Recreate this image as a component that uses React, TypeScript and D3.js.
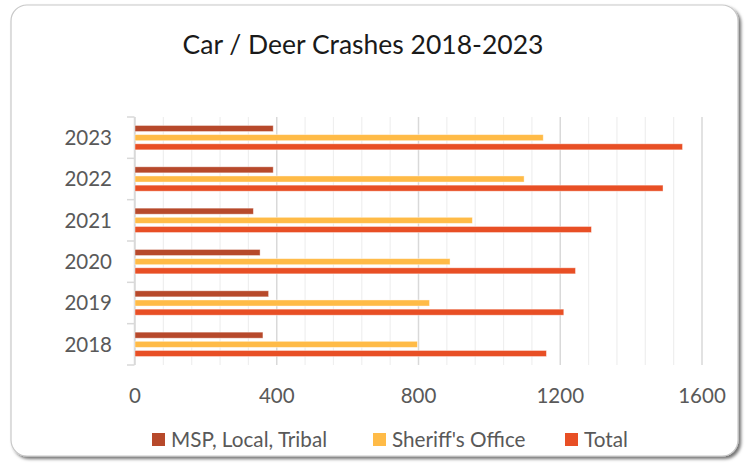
import React from "react";
import * as d3 from "d3";

const years = ["2023", "2022", "2021", "2020", "2019", "2018"];
const seriesNames = ["MSP, Local, Tribal", "Sheriff's Office", "Total"];
const mspValues = [390, 390, 334, 353, 377, 361];
const sheriffValues = [1152, 1098, 952, 889, 831, 797];
const totalValues = [1545, 1490, 1288, 1243, 1210, 1161];
const xTicks = [0, 400, 800, 1200, 1600];
const colors = ["#B7492B", "#FFBB47", "#E84F25"];

const W = 746;
const H = 463;
const FONT = "Lato, 'Open Sans', sans-serif";

export default function App() {
  const seriesValues = [mspValues, sheriffValues, totalValues];
  const x = d3.scaleLinear().domain([0, 1600]).range([135, 702]);
  const y = d3.scaleBand<string>().domain(years).range([117, 365]).paddingInner(0).paddingOuter(0);
  const groupPad = 0.41;
  const bandH = y.bandwidth();
  const groupH = bandH * (1 - groupPad);
  const inner = d3
    .scaleBand<string>()
    .domain(seriesNames)
    .range([0, groupH])
    .paddingInner(0.34)
    .paddingOuter(0);
  const minorTicks = d3.range(0, 1601, 80);

  const legendX = [152, 373, 565];

  return (
    <svg width={W} height={H} style={{ position: "absolute", left: 0, top: 0 }} fontFamily={FONT}>
      <defs>
        <filter id="sh" x="-5%" y="-5%" width="110%" height="110%">
          <feDropShadow dx="2.5" dy="2.5" stdDeviation="1.6" floodColor="#000" floodOpacity="0.55" />
        </filter>
      </defs>
      <rect x={0} y={0} width={W} height={H} fill="#fff" />
      <rect x={11} y={5} width={727} height={451} rx={16} ry={16} fill="#fff" stroke="#c8c8c8" strokeWidth={1.2} filter="url(#sh)" />
      <text x={363} y={54} textAnchor="middle" fontSize={26.5} fill="#1a1a1a">
        Car / Deer Crashes 2018-2023
      </text>
      {minorTicks.map((t) => (
        <line
          key={"m" + t}
          x1={x(t)}
          x2={x(t)}
          y1={117}
          y2={365}
          stroke={t % 400 === 0 ? "#d9d9d9" : "#efefef"}
          strokeWidth={t % 400 === 0 ? 1.5 : 1.2}
        />
      ))}
      {/* y axis */}
      <line x1={134.5} x2={134.5} y1={117} y2={365} stroke="#d9d9d9" strokeWidth={1.5} />
      {[...years.map((yr) => y(yr) as number), 365].map((v, i) => (
        <line key={"t" + i} x1={127} x2={134.5} y1={v} y2={v} stroke="#d9d9d9" strokeWidth={1.5} />
      ))}
      {years.map((yr, yi) => (
        <g key={yr}>
          <text x={112} y={(y(yr) as number) + bandH / 2} dy="0.35em" textAnchor="end" fontSize={20.5} fill="#595959">
            {yr}
          </text>
          {seriesNames.map((s, si) => {
            const v = seriesValues[si][yi];
            const by = (y(yr) as number) + (bandH - groupH) / 2 + (inner(s) as number);
            return (
              <rect
                key={s}
                x={x(0)}
                y={by}
                width={x(v) - x(0)}
                height={inner.bandwidth()}
                fill={colors[si]}
                stroke="#ffffff"
                strokeOpacity={0.5}
                strokeWidth={0.8}
              />
            );
          })}
        </g>
      ))}
      {xTicks.map((t) => (
        <text key={"x" + t} x={x(t)} y={396} dy="0.35em" textAnchor="middle" fontSize={20.5} fill="#595959">
          {t}
        </text>
      ))}
      {seriesNames.map((s, i) => (
        <g key={"l" + s}>
          <rect x={legendX[i]} y={433} width={13} height={13} fill={colors[i]} />
          <text x={legendX[i] + 19} y={440} dy="0.35em" fontSize={20.7} fill="#595959">
            {s}
          </text>
        </g>
      ))}
    </svg>
  );
}
